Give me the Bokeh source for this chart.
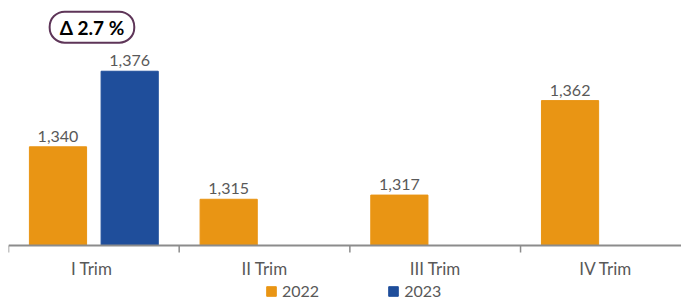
import math
from bokeh.plotting import figure
from bokeh.models import (ColumnDataSource, Range1d, Label, Legend,
                          LegendItem, Span)
from bokeh.core.properties import value
from bokeh.transform import dodge
from bokeh.embed import file_html
from bokeh.resources import INLINE

categories = ["I  Trim", "II Trim", "III Trim", "IV Trim"]
values_2022 = [1340, 1315, 1317, 1362]
values_2023 = [1376]
series_names = ["2022", "2023"]
delta_text = "Δ 2.7 %"

BASE = 1293
ORANGE = "#E99514"
BLUE = "#1F4E9B"
GRAY_TXT = "#595959"
AXIS_GRAY = "#8C8C8C"
FONT = "Lato"

idx22 = [i + 0.5 for i in range(len(values_2022))]
idx23 = [i + 0.5 for i in range(len(values_2023))]
bounds = list(range(len(categories) + 1))

src22 = ColumnDataSource(dict(x=idx22, top=values_2022,
                              lbl=[f"{v:,}" for v in values_2022]))
src23 = ColumnDataSource(dict(x=idx23, top=values_2023,
                              lbl=[f"{v:,}" for v in values_2023]))
src_cat = ColumnDataSource(dict(x=idx22, y=[BASE] * len(categories),
                                name=categories))
src_tick = ColumnDataSource(dict(x=bounds, y=[BASE] * len(bounds)))

p = figure(frame_width=673, frame_height=301, output_backend="svg",
           toolbar_location=None,
           x_range=Range1d(0, 3.943), y_range=Range1d(1266.3, 1409.7),
           min_border_left=8, min_border_right=0, min_border_top=0,
           min_border_bottom=0, x_axis_location=None, y_axis_location=None)
p.outline_line_color = None
p.grid.visible = False
p.background_fill_color = "white"
p.border_fill_color = "white"

off = 0.21
bw = 0.335
r22 = p.vbar(x=dodge("x", -off), top="top", bottom=BASE, width=bw, source=src22,
             fill_color=ORANGE, line_color=ORANGE)
r23 = p.vbar(x=dodge("x", off), top="top", bottom=BASE, width=bw, source=src23,
             fill_color=BLUE, line_color=BLUE)

for src, d in ((src22, -off), (src23, off)):
    p.text(x=dodge("x", d), y="top", text="lbl", source=src,
           text_align="center", text_baseline="bottom", y_offset=-5,
           text_color=GRAY_TXT, text_font_size="16px",
           text_font=value(FONT))

# category axis: baseline, boundary ticks, labels
p.add_layout(Span(location=BASE, dimension="width", line_color=AXIS_GRAY,
                  line_width=2))
p.ray(x="x", y="y", source=src_tick, length=7, length_units="screen",
      angle=-math.pi / 2, line_color=AXIS_GRAY, line_width=1.5)
p.text(x="x", y="y", text="name", source=src_cat, text_align="center",
       text_baseline="top", y_offset=13, text_color=GRAY_TXT,
       text_font_size="17px", text_font=value(FONT))

legend = Legend(items=[LegendItem(label=series_names[0], renderers=[r22]),
                       LegendItem(label=series_names[1], renderers=[r23])],
                orientation="horizontal", location=(257, 1))
legend.label_text_font = FONT
legend.label_text_font_size = "16px"
legend.label_text_color = GRAY_TXT
legend.glyph_width = 12
legend.glyph_height = 12
legend.label_height = 14
legend.label_standoff = 5
legend.spacing = 68
legend.padding = 0
legend.margin = 0
legend.border_line_color = None
legend.background_fill_alpha = 0
p.add_layout(legend)

lab = Label(x=0.489, y=1397, text=delta_text, text_align="center",
            text_baseline="middle", text_font=FONT, text_font_style="bold",
            text_font_size="19px", text_color="black",
            border_line_color="#5E3558", border_line_width=2,
            border_radius=15, padding=dict(left=10, right=10, top=4, bottom=4),
            background_fill_color="white")
p.add_layout(lab)

open("out.html", "w").write(file_html(p, INLINE))
